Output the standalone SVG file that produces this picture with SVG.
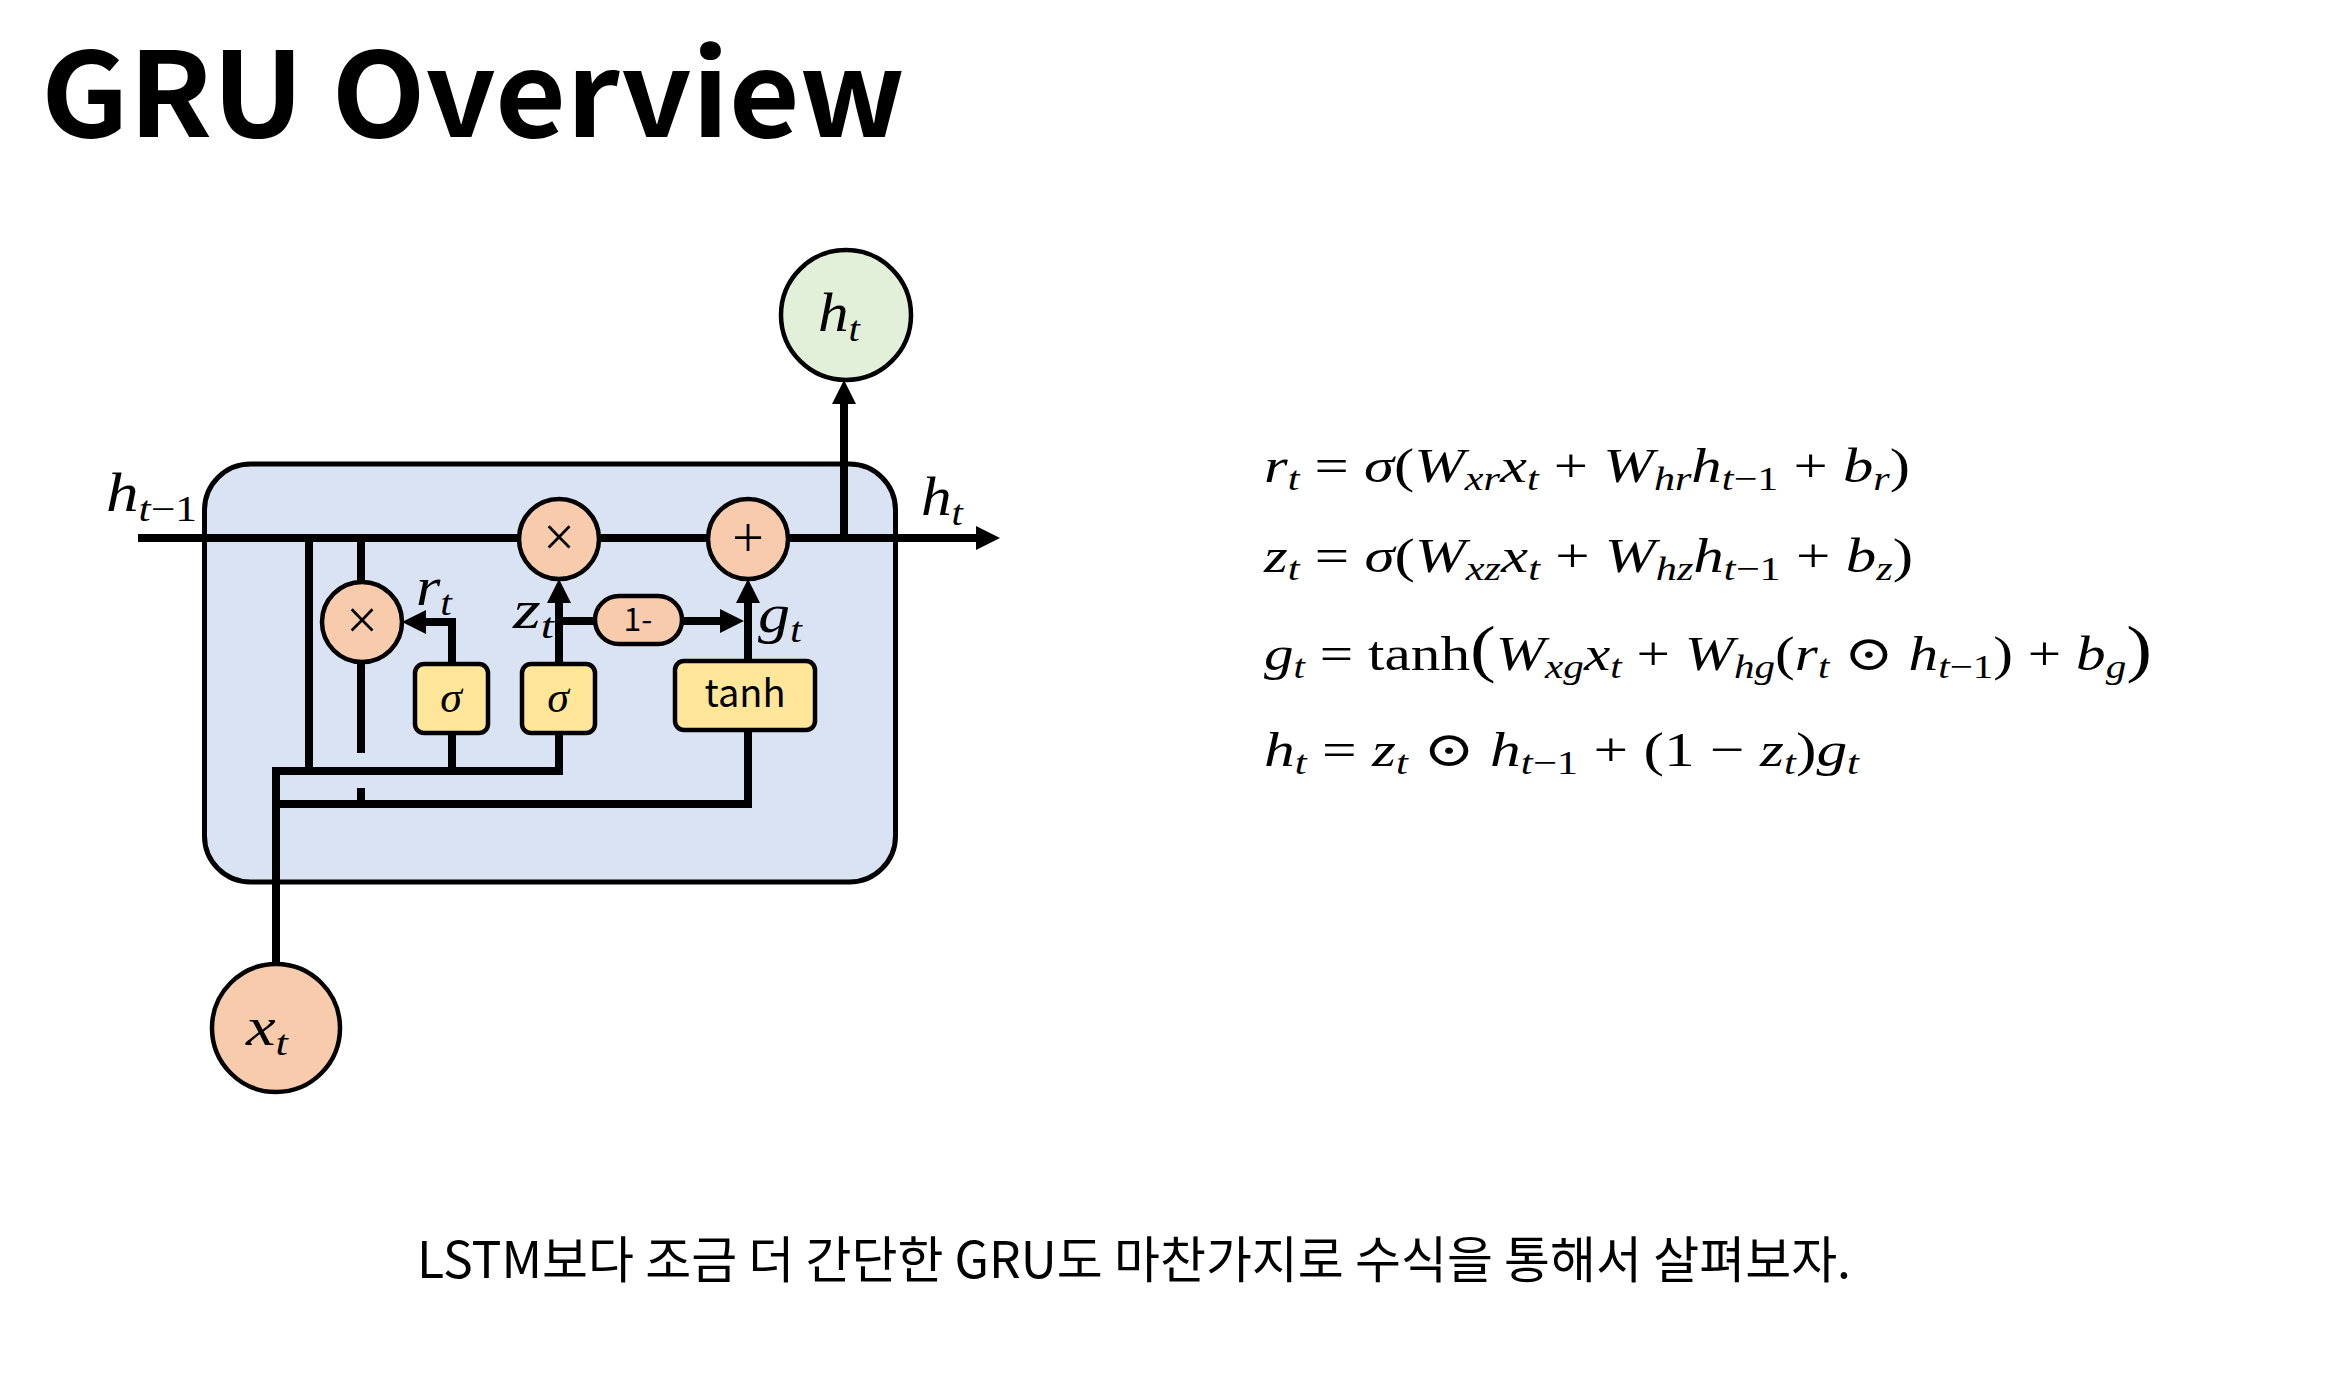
<svg xmlns="http://www.w3.org/2000/svg" width="2345" height="1385" viewBox="0 0 2345 1385">
  <style>
    .title { font-family: "Noto Sans CJK KR", "Noto Sans", sans-serif; font-weight: 700; font-size: 117px; fill: #000; }
    .caption { font-family: "Noto Sans CJK KR", "Noto Sans", sans-serif; font-size: 50px; fill: #000; }
    .math { font-family: "Liberation Serif", "DejaVu Serif", serif; font-style: italic; fill: #000; }
    .lbl { font-size: 54px; }
    .eq { font-size: 49px; }
    .up { font-style: normal; }
    .sb { font-size: 36px; }
    .eq .sb { font-size: 34px; }
    .sans { font-family: "Noto Sans CJK KR", "Noto Sans", sans-serif; fill: #000; }
    .wire { fill: none; stroke: #000; stroke-width: 8; stroke-linejoin: miter; }
    .op { fill: #f8cbad; stroke: #000; stroke-width: 4.5; }
    .gate { fill: #ffe699; stroke: #000; stroke-width: 4.5; }
    .out { fill: #e2f0d9; stroke: #000; stroke-width: 4.5; }
    .sym { font-family: "Liberation Serif", "DejaVu Serif", serif; font-size: 56px; fill: #000; text-anchor: middle; }
  </style>
  <defs>
    <marker id="ah" markerUnits="userSpaceOnUse" markerWidth="24" markerHeight="24" viewBox="0 0 24 24" refX="4" refY="12" orient="auto">
      <path d="M0,0 L24,12 L0,24 z" fill="#000"/>
    </marker>
  </defs>

  <rect width="2345" height="1385" fill="#fff"/>

  <text class="title" x="41" y="137" textLength="864" lengthAdjust="spacingAndGlyphs">GRU Overview</text>

  <!-- GRU cell body -->
  <g id="cell">
    <rect x="204.5" y="464" width="691" height="418" rx="46" fill="#dae3f3" stroke="#000" stroke-width="5"/>
  </g>

  <!-- wires and arrows -->
  <g id="connectors">
    <path class="wire" d="M138,538 H980" marker-end="url(#ah)"/>
    <path class="wire" d="M844,538 V400" marker-end="url(#ah)"/>
    <path class="wire" d="M309,538 V771"/>
    <path class="wire" d="M361,538 V584"/>
    <path class="wire" d="M361,660 V753"/>
    <path class="wire" d="M361,788 V804"/>
    <path class="wire" d="M276,965 V771 H559 V733"/>
    <path class="wire" d="M452,771 V733"/>
    <path class="wire" d="M276,804 H748 V730"/>
    <path class="wire" d="M452,664 V622 H422" marker-end="url(#ah)"/>
    <path class="wire" d="M559,664 V599" marker-end="url(#ah)"/>
    <path class="wire" d="M559,621 H596"/>
    <path class="wire" d="M682,621 H724" marker-end="url(#ah)"/>
    <path class="wire" d="M748,661 V599" marker-end="url(#ah)"/>
  </g>

  <!-- pointwise operations -->
  <g id="mul-update">
    <circle class="op" cx="559" cy="539" r="40"/>
    <text class="sym" x="559" y="556">×</text>
  </g>
  <g id="add-state">
    <circle class="op" cx="748" cy="539" r="40"/>
    <text class="sym" x="748" y="557">+</text>
  </g>
  <g id="mul-reset">
    <circle class="op" cx="362" cy="622" r="40"/>
    <text class="sym" x="362" y="639">×</text>
  </g>
  <g id="one-minus">
    <rect class="op" x="595" y="596" width="87" height="48" rx="24"/>
    <text class="sans" x="638" y="631" font-size="32" text-anchor="middle">1-</text>
  </g>

  <!-- gates -->
  <g id="sigma-reset">
    <rect class="gate" x="415" y="664" width="73" height="69" rx="9"/>
    <text class="math" x="451" y="712" font-size="44" text-anchor="middle">σ</text>
  </g>
  <g id="sigma-update">
    <rect class="gate" x="522" y="664" width="73" height="69" rx="9"/>
    <text class="math" x="558" y="712" font-size="44" text-anchor="middle">σ</text>
  </g>
  <g id="tanh-gate">
    <rect class="gate" x="675" y="661" width="140" height="69" rx="9"/>
    <text class="sans" x="745" y="707" font-size="38" text-anchor="middle">tanh</text>
  </g>

  <!-- input / output nodes -->
  <g id="h-out">
    <circle class="out" cx="846" cy="315" r="65"/>
    <text class="math lbl" x="818" y="331" textLength="42" lengthAdjust="spacingAndGlyphs">h<tspan class="sb" dy="10">t</tspan></text>
  </g>
  <g id="x-in">
    <circle class="op" cx="276" cy="1028" r="64"/>
    <text class="math lbl" x="246" y="1045" textLength="42" lengthAdjust="spacingAndGlyphs">x<tspan class="sb" dy="10">t</tspan></text>
  </g>

  <!-- wire labels -->
  <g id="labels">
    <text class="math lbl" x="106" y="511" textLength="91" lengthAdjust="spacingAndGlyphs">h<tspan class="sb" dy="10">t<tspan class="up">−1</tspan></tspan></text>
    <text class="math lbl" x="921" y="515" textLength="42" lengthAdjust="spacingAndGlyphs">h<tspan class="sb" dy="10">t</tspan></text>
    <text class="math lbl" x="416" y="605" textLength="36" lengthAdjust="spacingAndGlyphs">r<tspan class="sb" dy="10">t</tspan></text>
    <text class="math lbl" x="513" y="628" textLength="41" lengthAdjust="spacingAndGlyphs">z<tspan class="sb" dy="10">t</tspan></text>
    <text class="math lbl" x="758" y="632" textLength="44" lengthAdjust="spacingAndGlyphs">g<tspan class="sb" dy="10">t</tspan></text>
  </g>

  <!-- GRU equations -->
  <g id="equations" class="math eq">
    <text x="1264" y="482" textLength="646" lengthAdjust="spacingAndGlyphs">r<tspan class="sb" dy="8">t</tspan><tspan class="up" dy="-8"> = </tspan>σ<tspan class="up">(</tspan>W<tspan class="sb" dy="8">xr</tspan><tspan dy="-8">x</tspan><tspan class="sb" dy="8">t</tspan><tspan class="up" dy="-8"> + </tspan>W<tspan class="sb" dy="8">hr</tspan><tspan dy="-8">h</tspan><tspan class="sb" dy="8">t<tspan class="up">−1</tspan></tspan><tspan class="up" dy="-8"> + </tspan>b<tspan class="sb" dy="8">r</tspan><tspan class="up" dy="-8">)</tspan></text>
    <text x="1264" y="572" textLength="649" lengthAdjust="spacingAndGlyphs">z<tspan class="sb" dy="8">t</tspan><tspan class="up" dy="-8"> = </tspan>σ<tspan class="up">(</tspan>W<tspan class="sb" dy="8">xz</tspan><tspan dy="-8">x</tspan><tspan class="sb" dy="8">t</tspan><tspan class="up" dy="-8"> + </tspan>W<tspan class="sb" dy="8">hz</tspan><tspan dy="-8">h</tspan><tspan class="sb" dy="8">t<tspan class="up">−1</tspan></tspan><tspan class="up" dy="-8"> + </tspan>b<tspan class="sb" dy="8">z</tspan><tspan class="up" dy="-8">)</tspan></text>
    <text x="1264" y="670" textLength="888" lengthAdjust="spacingAndGlyphs">g<tspan class="sb" dy="8">t</tspan><tspan class="up" dy="-8"> = tanh</tspan><tspan class="up" font-size="64">(</tspan>W<tspan class="sb" dy="8">xg</tspan><tspan dy="-8">x</tspan><tspan class="sb" dy="8">t</tspan><tspan class="up" dy="-8"> + </tspan>W<tspan class="sb" dy="8">hg</tspan><tspan class="up" dy="-8">(</tspan>r<tspan class="sb" dy="8">t</tspan><tspan class="up" dy="-8"> ⊙ </tspan>h<tspan class="sb" dy="8">t<tspan class="up">−1</tspan></tspan><tspan class="up" dy="-8">) + </tspan>b<tspan class="sb" dy="8">g</tspan><tspan class="up" dy="-8" font-size="64">)</tspan></text>
    <text x="1264" y="766" textLength="595" lengthAdjust="spacingAndGlyphs">h<tspan class="sb" dy="8">t</tspan><tspan class="up" dy="-8"> = </tspan>z<tspan class="sb" dy="8">t</tspan><tspan class="up" dy="-8"> ⊙ </tspan>h<tspan class="sb" dy="8">t<tspan class="up">−1</tspan></tspan><tspan class="up" dy="-8"> + (1 − </tspan>z<tspan class="sb" dy="8">t</tspan><tspan class="up" dy="-8">)</tspan>g<tspan class="sb" dy="8">t</tspan></text>
  </g>

  <text class="caption" x="417" y="1278" textLength="1434" lengthAdjust="spacingAndGlyphs">LSTM보다 조금 더 간단한 GRU도 마찬가지로 수식을 통해서 살펴보자.</text>
</svg>
